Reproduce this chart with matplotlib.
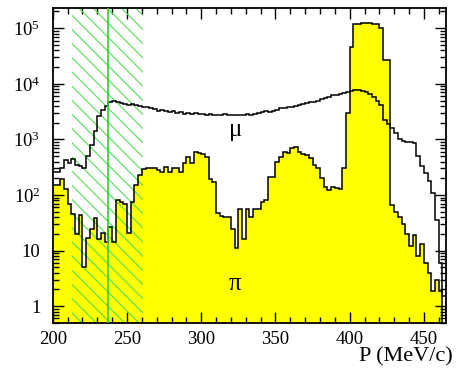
import numpy as np
import matplotlib
matplotlib.use("Agg")
import matplotlib.pyplot as plt
from matplotlib.ticker import FixedLocator, FixedFormatter, MultipleLocator, LogLocator, NullFormatter

DPI = 85
k = 100.0 / DPI  # keeps sizes as if drawn at 100 dpi

plt.rcParams['font.family'] = ['Liberation Serif', 'DejaVu Serif']
plt.rcParams['mathtext.fontset'] = 'custom'
plt.rcParams['mathtext.rm'] = 'Liberation Serif'
plt.rcParams['hatch.linewidth'] = 0.8 * k

# momentum bins (MeV/c), 2.5 MeV wide, from 200
edges = np.arange(200, 467.6, 2.5)

# pion spectrum (yellow filled)
pi_counts = [150, 150, 190, 130, 70, 45, 20, 44, 5, 17,
             24, 39, 16, 21, 14, 26, 14, 80, 75, 70,
             21, 76, 150, 230, 290, 310, 310, 300, 280, 260,
             320, 260, 300, 310, 260, 380, 490, 380, 600, 560,
             550, 490, 190, 170, 48, 41, 40, 40, 24, 11,
             55, 16, 55, 40, 55, 55, 76, 80, 210, 210,
             400, 490, 600, 560, 710, 740, 600, 540, 520, 470,
             350, 310, 200, 140, 125, 140, 135, 130, 310, 3000,
             45000, 120000, 120000, 125000, 122000, 125000, 120000, 120000, 100000, 27000,
             27000, 65, 50, 40, 30, 20, 12, 19, 8, 13,
             6, 4, 1.9, 3, 1.9, 0, 0]

# muon spectrum (open histogram)
mu_counts = [260, 260, 300, 420, 380, 440, 350, 330, 300, 500,
             800, 1400, 2600, 3400, 4000, 4800, 5000, 4700, 4600, 4300,
             4200, 4400, 4100, 4000, 3900, 3800, 3600, 3500, 3300, 3400,
             3200, 3100, 3200, 3000, 3050, 2900, 3000, 2900, 3000, 2850,
             2900, 2800, 2900, 2700, 2800, 2750, 2850, 2700, 2800, 2750,
             2750, 2800, 2900, 2800, 2900, 2950, 3100, 3200, 3100, 3300,
             3400, 3600, 3700, 3800, 3900, 4000, 4200, 4400, 4500, 4700,
             4800, 5000, 5300, 5600, 5800, 6200, 6300, 6500, 6800, 7000,
             7400, 7700, 7700, 7500, 7200, 6600, 5800, 5000, 4200, 2200,
             1900, 1600, 1300, 1000, 950, 900, 880, 870, 500, 330,
             250, 180, 110, 36, 6, 1.5, 0]

cut_lo, cut_hi, cut_mid = 213, 261, 237

y_ticks = [1, 10, 100, 1e3, 1e4, 1e5]
y_labels = ['1', '10', r'$\mathregular{10^{2}}$', r'$\mathregular{10^{3}}$',
            r'$\mathregular{10^{4}}$', r'$\mathregular{10^{5}}$']

pi_arr = np.array(pi_counts, dtype=float)
mu_arr = np.array(mu_counts, dtype=float)
pi_arr = np.where(pi_arr > 0, pi_arr, 1e-2)
mu_arr = np.where(mu_arr > 0, mu_arr, 1e-2)

fig = plt.figure(figsize=(459 / DPI, 369 / DPI), dpi=DPI)
ax = fig.add_axes([0.115, 0.125, 0.857, 0.853])
ax.set_yscale('log')

ax.stairs(pi_arr, edges, fill=True, baseline=1e-2, color='#ffff00', zorder=1)
ax.axvspan(cut_lo, cut_hi, facecolor='none', edgecolor='#55dd55', hatch='\\\\', lw=0, zorder=2)
ax.stairs(mu_arr, edges, color='black', lw=1.1 * k, baseline=None, zorder=3)
ax.stairs(pi_arr, edges, color='black', lw=1.1 * k, baseline=None, zorder=3)
ax.axvline(cut_mid, color='#33cc33', lw=1.2 * k, zorder=4)

ax.set_xlim(200, 465)
ax.set_ylim(0.5, 2.3e5)

ax.xaxis.set_major_locator(MultipleLocator(50))
ax.xaxis.set_minor_locator(MultipleLocator(10))
ax.yaxis.set_major_locator(FixedLocator(y_ticks))
ax.yaxis.set_major_formatter(FixedFormatter(y_labels))
ax.yaxis.set_minor_locator(LogLocator(base=10, subs=np.arange(2, 10)))
ax.yaxis.set_minor_formatter(NullFormatter())

ax.tick_params(which='both', direction='in', top=True, right=True, width=1.0 * k)
ax.tick_params(which='major', length=8 * k, labelsize=13.5 * k)
ax.tick_params(axis='y', which='major', pad=9 * k)
ax.tick_params(axis='x', which='major', pad=6 * k)
ax.tick_params(which='minor', length=4.5 * k)
for s in ax.spines.values():
    s.set_linewidth(1.3 * k)

ax.text(323, 1500, 'μ', fontsize=18 * k, ha='center', va='center', zorder=5)
ax.text(323, 2.5, 'π', fontsize=18 * k, ha='center', va='center', zorder=5)
fig.text(453 / 459, 1 - 357 / 369, 'P (MeV/c)', fontsize=16 * k, ha='right', va='center')

fig.savefig('out.png', dpi=DPI)
